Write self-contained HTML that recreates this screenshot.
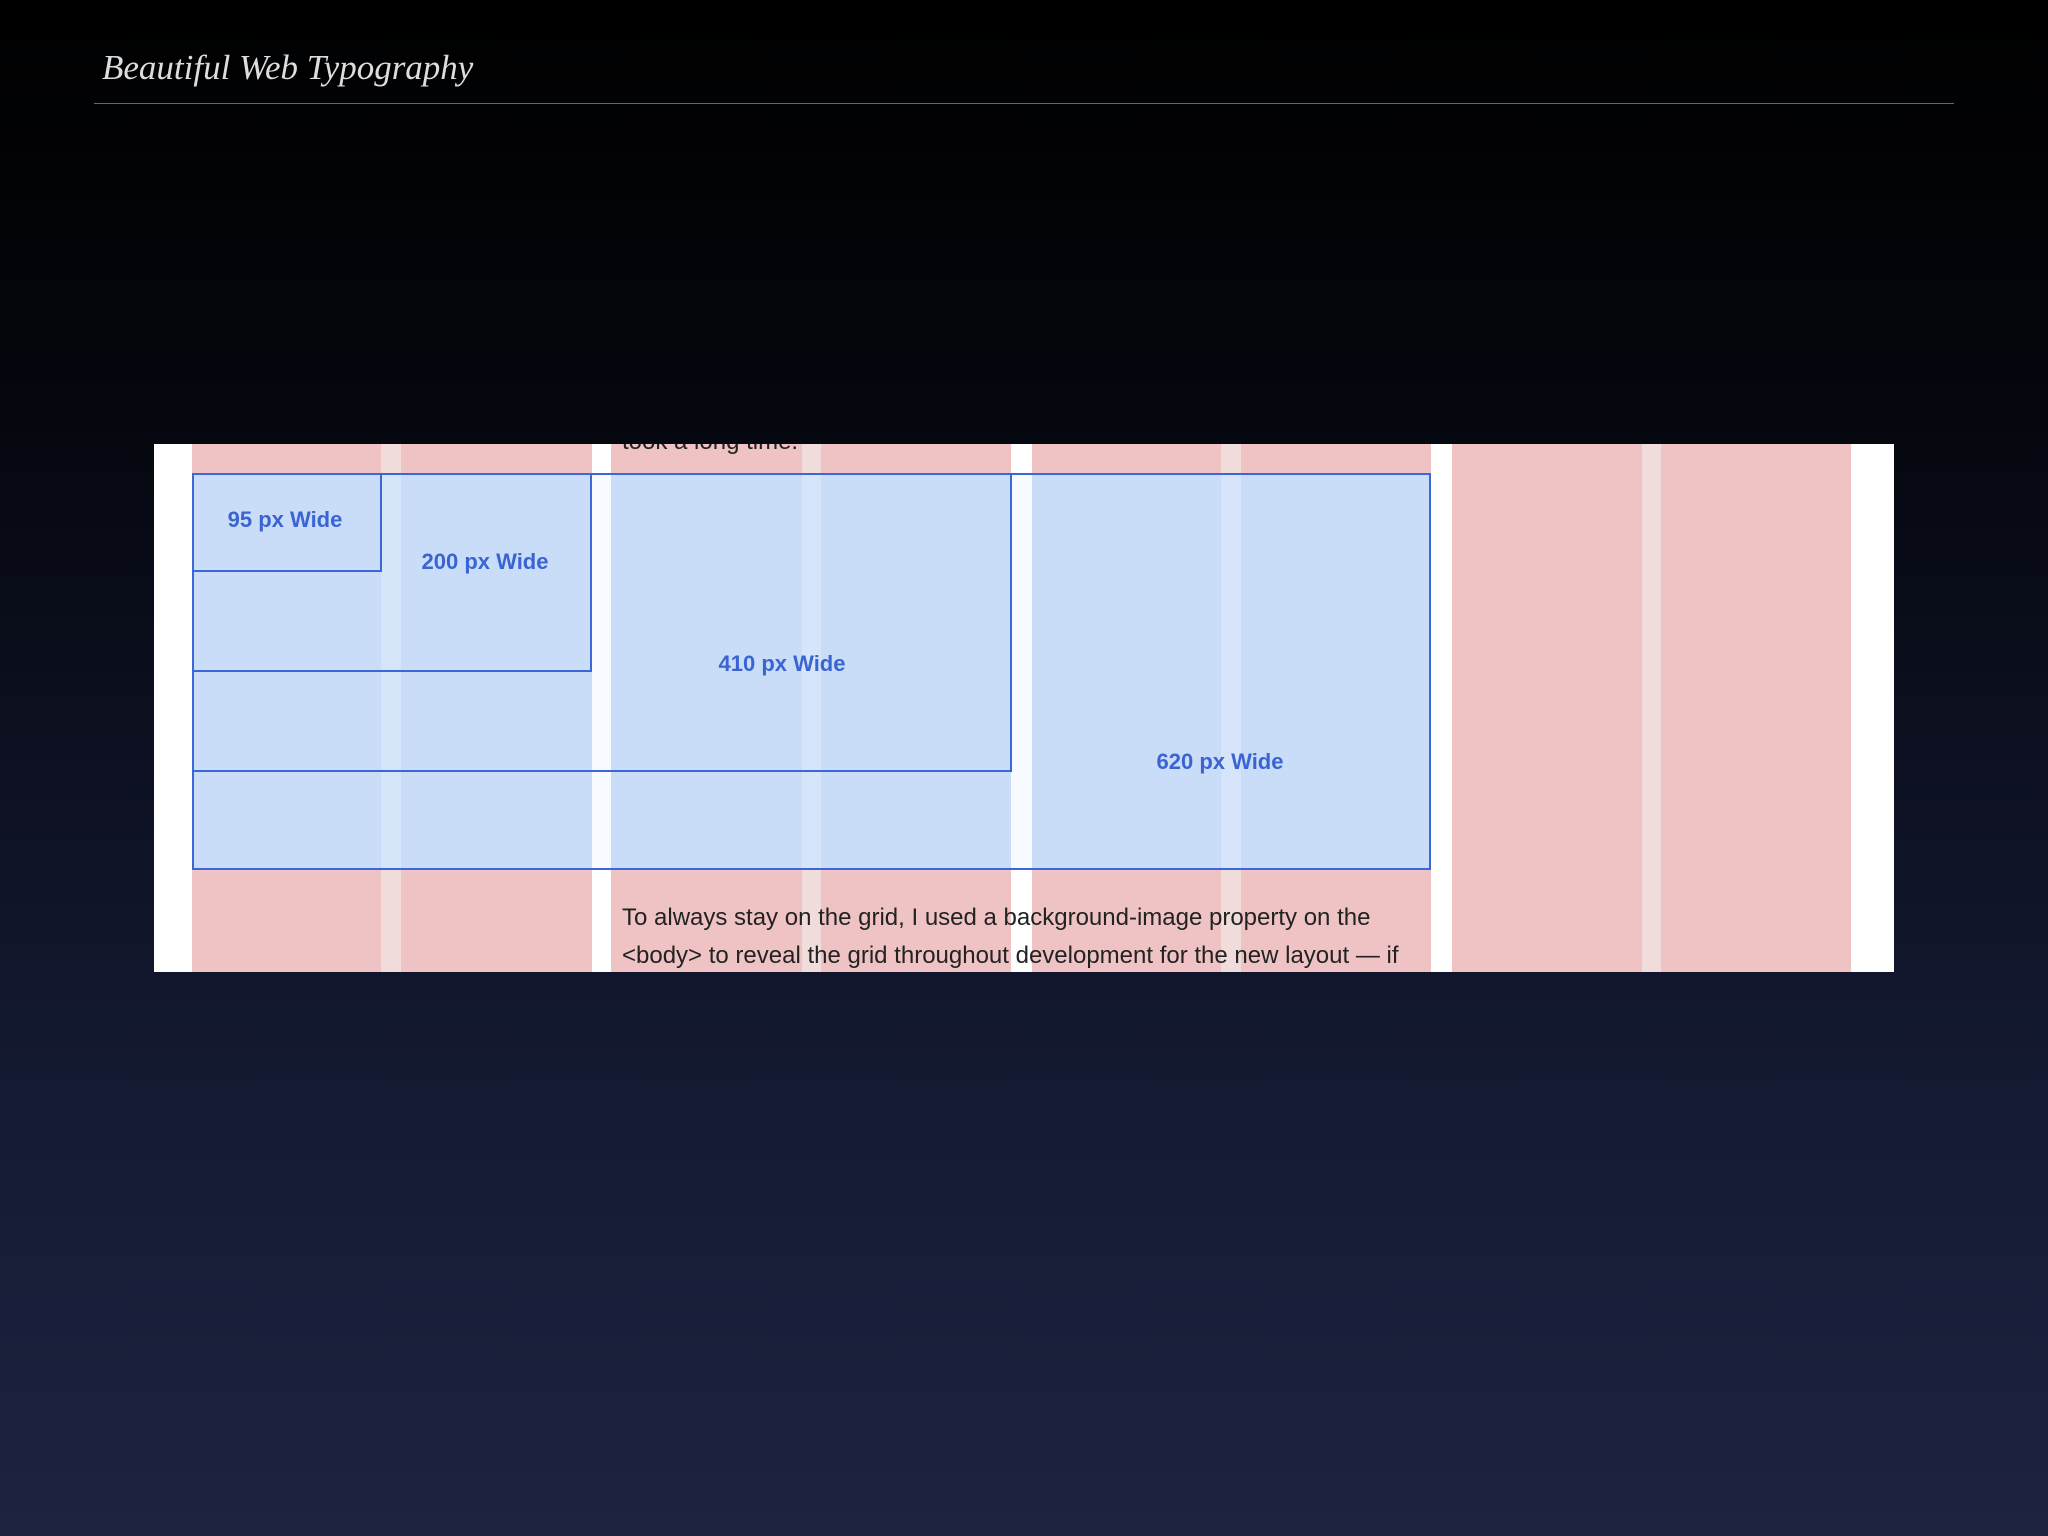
<!DOCTYPE html>
<html><head><style>
body{margin:0;width:2048px;height:1536px;overflow:hidden;background:linear-gradient(#000 0px,#05070f 420px,#141a33 1100px,#1c2440 1536px);font-family:"Liberation Sans",sans-serif;position:relative}
.a{position:absolute}
.t{left:102px;top:48px;font-family:"Liberation Serif",serif;font-style:italic;font-size:35px;color:#ddd}
.l{left:94px;top:103px;width:1860px;height:1px;background:#666}
.p{left:154px;top:444px;width:1740px;height:528px;background:#fff;overflow:hidden}
.c{background:#efc3c3;top:0;height:528px}
.g{background:#f1dcdc;top:0;height:528px}
.bf{background:#c9ddf9}
.bg{background:#d7e5fb}
.bw{background:#f7faff}
.b{border:2px solid #3c67d8;box-sizing:border-box}
.lab{color:#3a64d2;font-weight:bold;font-size:22px;transform:translate(-50%,-50%);white-space:nowrap}
.tx{font-size:24px;color:#222;left:468px;white-space:nowrap}
</style></head><body>
<div class="a t">Beautiful Web Typography</div>
<div class="a l"></div>
<div class="a p">
<div class="a c" style="left:38px;width:189px"></div><div class="a g" style="left:227px;width:20px"></div><div class="a c" style="left:247px;width:191px"></div>
<div class="a c" style="left:457px;width:191px"></div><div class="a g" style="left:648px;width:19px"></div><div class="a c" style="left:667px;width:190px"></div>
<div class="a c" style="left:878px;width:189px"></div><div class="a g" style="left:1067px;width:20px"></div><div class="a c" style="left:1087px;width:190px"></div>
<div class="a c" style="left:1298px;width:190px"></div><div class="a g" style="left:1488px;width:19px"></div><div class="a c" style="left:1507px;width:190px"></div>
<div class="a bf" style="left:38px;top:29px;width:1239px;height:397px"></div>
<div class="a bg" style="left:227px;top:29px;width:20px;height:397px"></div>
<div class="a bg" style="left:648px;top:29px;width:19px;height:397px"></div>
<div class="a bg" style="left:1067px;top:29px;width:20px;height:397px"></div>
<div class="a bw" style="left:438px;top:29px;width:19px;height:397px"></div>
<div class="a bw" style="left:857px;top:29px;width:21px;height:397px"></div>
<div class="a b" style="left:38px;top:29px;width:1239px;height:397px"></div>
<div class="a b" style="left:38px;top:29px;width:820px;height:299px"></div>
<div class="a b" style="left:38px;top:29px;width:400px;height:199px"></div>
<div class="a b" style="left:38px;top:29px;width:190px;height:99px"></div>
<div class="a lab" style="left:131px;top:76px">95 px Wide</div>
<div class="a lab" style="left:331px;top:118px">200 px Wide</div>
<div class="a lab" style="left:628px;top:220px">410 px Wide</div>
<div class="a lab" style="left:1066px;top:318px">620 px Wide</div>
<div class="a tx" style="top:-16px">took a long time.</div>
<div class="a tx" style="top:460px">To always stay on the grid, I used a background-image property on the</div>
<div class="a tx" style="top:498px">&lt;body&gt; to reveal the grid throughout development for the new layout — if</div>
</div>
</body></html>
